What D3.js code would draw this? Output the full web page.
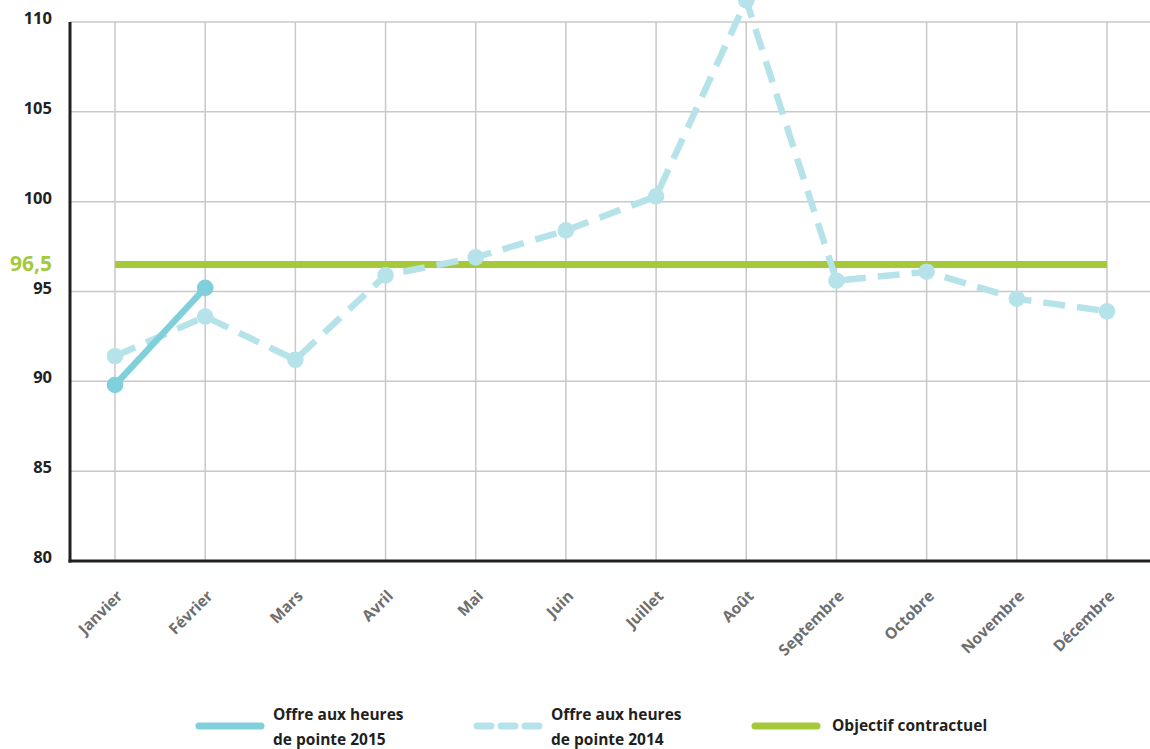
<!DOCTYPE html>
<html><head><meta charset="utf-8">
<script src="https://cdn.jsdelivr.net/npm/d3@7"></script>
<style>
html,body{margin:0;padding:0;background:#fff;}
svg{display:block;font-family:"Open Sans","Noto Sans",sans-serif;}
</style></head>
<body>
<script>
const months = ["Janvier","Février","Mars","Avril","Mai","Juin","Juillet","Août","Septembre","Octobre","Novembre","Décembre"];
const offre2014 = [91.4, 93.6, 91.2, 95.9, 96.9, 98.4, 100.3, 111.2, 95.6, 96.1, 94.6, 93.9];
const offre2015 = [89.8, 95.2];
const objectif = 96.5;
const yTicks = [80, 85, 90, 95, 100, 105, 110];
const legendItems = [
  {key:"2015", lines:["Offre aux heures","de pointe 2015"]},
  {key:"2014", lines:["Offre aux heures","de pointe 2014"]},
  {key:"obj", lines:["Objectif contractuel"]}
];

const W = 1150, H = 749;
const c2015 = "#80d0dc", c2014 = "#b6e3ea", cObj = "#a5c93a";
const svg = d3.select("body").append("svg").attr("width", W).attr("height", H);

const x = d3.scalePoint().domain(months).range([115, 1107]);
const y = d3.scaleLinear().domain([80, 110]).range([561, 22]);

// horizontal grid
svg.append("g").selectAll("line").data(yTicks).join("line")
  .attr("x1", 70).attr("x2", W).attr("y1", d => y(d)).attr("y2", d => y(d))
  .attr("stroke", "#c8c8c8").attr("stroke-width", 1.5);
// vertical grid
svg.append("g").selectAll("line").data(months).join("line")
  .attr("x1", d => x(d)).attr("x2", d => x(d)).attr("y1", y(110)).attr("y2", y(80))
  .attr("stroke", "#c8c8c8").attr("stroke-width", 1.5);

// y axis labels
const yAxis = d3.axisLeft(y).tickValues(yTicks).tickSize(0).tickPadding(18).tickFormat(d3.format("d"));
const gy = svg.append("g").attr("transform", "translate(70,0)").call(yAxis);
gy.select(".domain").remove();
gy.selectAll("text").attr("font-size", 16.5).attr("font-weight", 700).attr("fill", "#222")
  .attr("font-family", "'Open Sans',sans-serif").attr("dy", "0.1em");

// x axis labels
const xAxis = d3.axisBottom(x).tickSize(0).tickPadding(0);
const gx = svg.append("g").attr("transform", "translate(0,561)").call(xAxis);
gx.select(".domain").remove();
gx.selectAll("text")
  .attr("font-size", 15.5).attr("font-weight", 700).attr("fill", "#6d6e70")
  .attr("font-family", "'Open Sans',sans-serif")
  .attr("text-anchor", "end").attr("dy", "0")
  .attr("transform", "translate(8,36) rotate(-45)");

// axis lines
svg.append("line").attr("x1", 70).attr("x2", 70).attr("y1", y(110)).attr("y2", y(80) + 1.5)
  .attr("stroke", "#231f20").attr("stroke-width", 3);
svg.append("line").attr("x1", 68.5).attr("x2", W).attr("y1", y(80)).attr("y2", y(80))
  .attr("stroke", "#231f20").attr("stroke-width", 3);

// objective line
svg.append("line").attr("x1", x(months[0])).attr("x2", x(months[11]))
  .attr("y1", y(objectif)).attr("y2", y(objectif))
  .attr("stroke", cObj).attr("stroke-width", 7);
svg.append("text").attr("x", 52).attr("y", y(objectif)).attr("dy", "0.33em")
  .attr("text-anchor", "end").attr("font-size", 21).attr("font-weight", 700)
  .attr("fill", cObj).text(String(objectif).replace(".", ","));

const line = d3.line().x((d, i) => x(months[i])).y(d => y(d));

// 2014 dashed
svg.append("path").datum(offre2014).attr("d", line).attr("fill", "none")
  .attr("stroke", c2014).attr("stroke-width", 6.5).attr("stroke-dasharray", "22,12");
svg.append("g").selectAll("circle").data(offre2014).join("circle")
  .attr("cx", (d, i) => x(months[i])).attr("cy", d => y(d)).attr("r", 8.3).attr("fill", c2014);

// 2015 solid
svg.append("path").datum(offre2015).attr("d", line).attr("fill", "none")
  .attr("stroke", c2015).attr("stroke-width", 6.5);
svg.append("g").selectAll("circle").data(offre2015).join("circle")
  .attr("cx", (d, i) => x(months[i])).attr("cy", d => y(d)).attr("r", 8.3).attr("fill", c2015);

// legend
const lg = svg.append("g");
const legPos = [{lx: 199, tx: 273}, {lx: 477, tx: 551}, {lx: 755, tx: 832}];
legendItems.forEach((it, i) => {
  const p = legPos[i];
  const ly = 726;
  const l = lg.append("line").attr("x1", p.lx).attr("x2", p.lx + 62).attr("y1", ly).attr("y2", ly)
    .attr("stroke-width", 7).attr("stroke-linecap", "round");
  if (it.key === "2015") l.attr("stroke", c2015);
  else if (it.key === "2014") l.attr("stroke", c2014).attr("stroke-dasharray", "14,10");
  else l.attr("stroke", cObj);
  const t = lg.append("text").attr("x", p.tx).attr("font-size", 15.5).attr("font-weight", 700).attr("fill", "#231f20");
  if (it.lines.length === 2) {
    t.append("tspan").attr("x", p.tx).attr("y", 720).text(it.lines[0]);
    t.append("tspan").attr("x", p.tx).attr("y", 745).text(it.lines[1]);
  } else {
    t.append("tspan").attr("x", p.tx).attr("y", 731).text(it.lines[0]);
  }
});
</script>
</body></html>
